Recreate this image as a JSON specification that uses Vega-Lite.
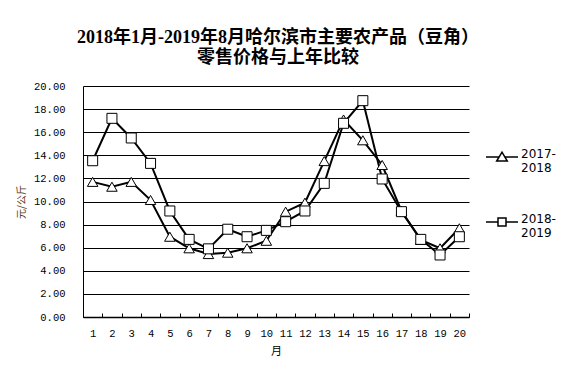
{
  "$schema": "https://vega.github.io/schema/vega-lite/v6.json",
  "width": 386,
  "height": 231,
  "autosize": {"type": "none"},
  "padding": {"left": 83, "top": 86, "right": 109, "bottom": 61},
  "background": "white",
  "title": {
    "text": ["2018年1月-2019年8月哈尔滨市主要农产品（豆角）", "零售价格与上年比较"],
    "font": "'Liberation Serif', 'Noto Sans CJK SC'",
    "fontSize": 18,
    "fontWeight": "bold",
    "color": "black",
    "anchor": "middle",
    "lineHeight": 20,
    "offset": 14,
    "dx": 2
  },
  "data": {
    "values": [
      {"m": 1, "series": "2017-2018", "v": 11.7},
      {"m": 2, "series": "2017-2018", "v": 11.28},
      {"m": 3, "series": "2017-2018", "v": 11.7},
      {"m": 4, "series": "2017-2018", "v": 10.13},
      {"m": 5, "series": "2017-2018", "v": 6.95},
      {"m": 6, "series": "2017-2018", "v": 5.95},
      {"m": 7, "series": "2017-2018", "v": 5.45},
      {"m": 8, "series": "2017-2018", "v": 5.57},
      {"m": 9, "series": "2017-2018", "v": 5.95},
      {"m": 10, "series": "2017-2018", "v": 6.6},
      {"m": 11, "series": "2017-2018", "v": 9.12},
      {"m": 12, "series": "2017-2018", "v": 9.9},
      {"m": 13, "series": "2017-2018", "v": 13.5},
      {"m": 14, "series": "2017-2018", "v": 17.1},
      {"m": 15, "series": "2017-2018", "v": 15.3},
      {"m": 16, "series": "2017-2018", "v": 13.16},
      {"m": 17, "series": "2017-2018", "v": 9.18},
      {"m": 18, "series": "2017-2018", "v": 6.67},
      {"m": 19, "series": "2017-2018", "v": 5.95},
      {"m": 20, "series": "2017-2018", "v": 7.68},
      {"m": 1, "series": "2018-2019", "v": 13.53},
      {"m": 2, "series": "2018-2019", "v": 17.2},
      {"m": 3, "series": "2018-2019", "v": 15.5},
      {"m": 4, "series": "2018-2019", "v": 13.3},
      {"m": 5, "series": "2018-2019", "v": 9.18},
      {"m": 6, "series": "2018-2019", "v": 6.72},
      {"m": 7, "series": "2018-2019", "v": 5.9},
      {"m": 8, "series": "2018-2019", "v": 7.6},
      {"m": 9, "series": "2018-2019", "v": 6.95},
      {"m": 10, "series": "2018-2019", "v": 7.5},
      {"m": 11, "series": "2018-2019", "v": 8.25},
      {"m": 12, "series": "2018-2019", "v": 9.18},
      {"m": 13, "series": "2018-2019", "v": 11.57},
      {"m": 14, "series": "2018-2019", "v": 16.77},
      {"m": 15, "series": "2018-2019", "v": 18.73},
      {"m": 16, "series": "2018-2019", "v": 11.95},
      {"m": 17, "series": "2018-2019", "v": 9.12},
      {"m": 18, "series": "2018-2019", "v": 6.72},
      {"m": 19, "series": "2018-2019", "v": 5.37},
      {"m": 20, "series": "2018-2019", "v": 6.95}
    ]
  },
  "layer": [
    {
      "mark": {"type": "line", "strokeWidth": 2},
      "encoding": {
        "x": {
          "field": "m",
          "type": "quantitative",
          "scale": {"domain": [0.5, 20.5], "nice": false, "zero": false},
          "axis": {
            "orient": "bottom",
            "values": [1,2,3,4,5,6,7,8,9,10,11,12,13,14,15,16,17,18,19,20],
            "tickCount": 40,
            "format": "d",
            "grid": false,
            "ticks": false,
            "domain": true,
            "domainColor": "black",
            "domainWidth": 1.5,
            "labelFont": "Liberation Mono",
            "labelFontSize": 10.5,
            "labelColor": "black",
            "labelPadding": 11,
            "labelFlush": false,
            "labelOverlap": false,
            "title": "月",
            "titleFont": "Noto Sans CJK SC",
            "titleFontSize": 11,
            "titleFontWeight": "normal",
            "titleColor": "black",
            "titlePadding": 7
          }
        },
        "y": {
          "field": "v",
          "type": "quantitative",
          "scale": {"domain": [0, 20], "nice": false},
          "axis": {
            "values": [0,2,4,6,8,10,12,14,16,18,20],
            "tickCount": 40,
            "format": ".2f",
            "grid": true,
            "gridColor": "black",
            "gridOpacity": 1,
            "gridWidth": 1,
            "ticks": false,
            "domain": true,
            "domainColor": "black",
            "domainWidth": 1,
            "labelFont": "Liberation Mono",
            "labelFontSize": 10.5,
            "labelColor": "black",
            "labelPadding": 18,
            "labelOverlap": false,
            "labelFlush": false,
            "title": "元/公斤",
            "titleFont": "Noto Sans CJK SC",
            "titleFontSize": 10,
            "titleFontWeight": "normal",
            "titleColor": "#5a3a1a",
            "titlePadding": 7
          }
        },
        "color": {
          "field": "series",
          "type": "nominal",
          "scale": {"domain": ["2017-2018", "2018-2019"], "range": ["black", "black"]},
          "legend": {
            "title": null,
            "orient": "none",
            "legendX": 402,
            "legendY": 54,
            "labelExpr": "[slice(datum.label, 0, 5), slice(datum.label, 5)]",
            "labelFont": "DejaVu Sans",
            "labelFontSize": 12,
            "labelColor": "black",
            "labelLimit": 200,
            "labelOffset": 2,
            "rowPadding": 31,
            "symbolSize": 1024,
            "symbolStrokeWidth": 1.5,
            "symbolStrokeColor": "black",
            "symbolFillColor": "white",
            "symbolOpacity": 1,
            "encode": {
              "symbols": {
                "update": {
                  "shape": {"signal": "datum.value === '2017-2018' ? 'M-1,0H-0.18M0.18,0H1M-0.33,0.25L0,-0.3L0.33,0.25Z' : 'M-1,0H-0.25M0.25,0H1M-0.25,-0.25H0.25V0.25H-0.25Z'"},
                  "fill": {"value": "white"},
                  "stroke": {"value": "black"}
                }
              },
              "labels": {
                "update": {
                  "baseline": {"value": "top"},
                  "dy": {"value": -8}
                }
              }
            }
          }
        }
      }
    },
    {
      "transform": [{"filter": "datum.series === '2017-2018'"}],
      "mark": {"type": "point", "shape": "triangle-up", "filled": true, "fill": "white", "stroke": "black", "strokeWidth": 1, "size": 110, "opacity": 1},
      "encoding": {
        "x": {
          "field": "m",
          "type": "quantitative",
          "axis": {
            "orient": "bottom",
            "values": [0.5,1.5,2.5,3.5,4.5,5.5,6.5,7.5,8.5,9.5,10.5,11.5,12.5,13.5,14.5,15.5,16.5,17.5,18.5,19.5,20.5],
            "tickCount": 40,
            "labels": false,
            "domain": false,
            "grid": false,
            "ticks": true,
            "tickSize": -4,
            "tickColor": "black",
            "tickWidth": 1,
            "title": null
          }
        },
        "y": {"field": "v", "type": "quantitative"}
      }
    },
    {
      "transform": [{"filter": "datum.series === '2018-2019'"}],
      "mark": {"type": "point", "shape": "square", "filled": true, "fill": "white", "stroke": "black", "strokeWidth": 1, "size": 100, "opacity": 1},
      "encoding": {
        "x": {"field": "m", "type": "quantitative", "axis": null},
        "y": {"field": "v", "type": "quantitative"}
      }
    }
  ],
  "resolve": {"axis": {"x": "independent"}},
  "config": {
    "view": {"stroke": null},
    "axis": {"labelAngle": 0}
  }
}
